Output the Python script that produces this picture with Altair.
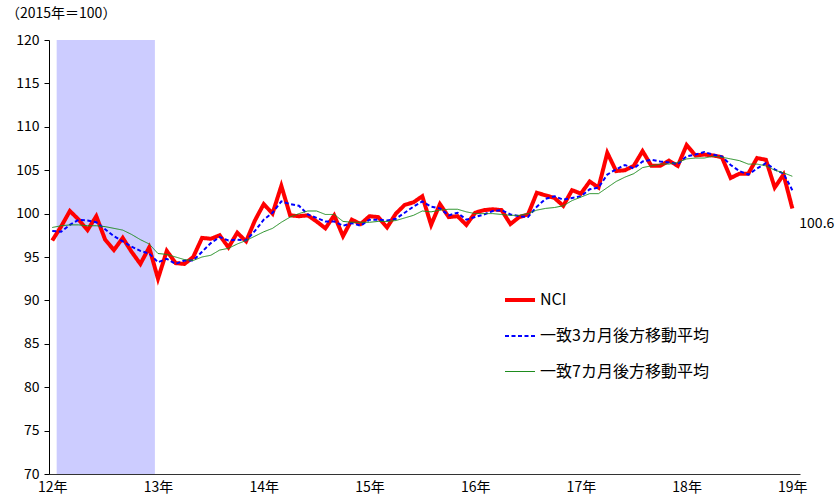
import altair as alt
import pandas as pd

# Year labels shown on the horizontal axis (one per January)
year_labels = ["12年", "13年", "14年", "15年", "16年", "17年", "18年", "19年"]

# Monthly values, Jan 2012 – Jan 2019 (2015 = 100)
nci = [
    96.9, 98.5, 100.3, 99.3, 98.1, 99.7, 97.0, 95.8, 97.2, 95.6, 94.2, 96.1,
    92.5, 95.7, 94.3, 94.2, 95.0, 97.2, 97.1, 97.5, 96.1, 97.8, 96.8, 99.2,
    101.1, 100.0, 103.2, 99.8, 99.7, 99.8, 99.1, 98.3, 99.8, 97.4, 99.3, 98.8,
    99.7, 99.6, 98.4, 100.0, 101.0, 101.3, 102.0, 98.7, 101.1, 99.6, 99.7, 98.7,
    100.1, 100.4, 100.5, 100.4, 98.8, 99.6, 99.9, 102.4, 102.1, 101.8, 100.9, 102.7,
    102.3, 103.7, 103.0, 107.0, 104.9, 105.0, 105.5, 107.2, 105.5, 105.5, 106.1, 105.5,
    107.9, 106.7, 106.8, 106.7, 106.5, 104.1, 104.6, 104.6, 106.4, 106.2, 103.0, 104.5,
    100.6,
]
ma3 = [
    98.0, 97.9, 98.7, 99.3, 99.2, 99.0, 98.2, 97.4, 96.8, 96.2, 95.7, 95.4,
    94.4, 94.8, 94.2, 94.6, 94.6, 95.6, 96.6, 97.3, 96.9, 97.0, 96.9, 98.0,
    99.3, 100.1, 101.4, 101.1, 100.9, 99.9, 99.5, 99.1, 99.1, 98.6, 98.9, 98.6,
    99.3, 99.3, 99.2, 99.4, 100.1, 100.8, 101.4, 100.8, 100.6, 99.8, 100.1, 99.3,
    99.6, 99.9, 100.3, 100.4, 99.9, 99.7, 99.6, 100.8, 101.7, 102.0, 101.6, 101.8,
    102.0, 102.8, 103.0, 104.5, 105.1, 105.6, 105.2, 106.0, 106.2, 106.0, 105.9, 105.7,
    106.6, 106.8, 107.1, 106.8, 106.6, 105.6, 104.9, 104.5, 105.2, 105.8, 105.1, 104.6,
    102.7,
]
ma7 = [
    98.4, 98.6, 98.7, 98.7, 98.6, 98.6, 98.5, 98.3, 98.1, 97.6, 97.0, 96.5,
    95.4, 95.3, 95.0, 94.7, 94.6, 95.0, 95.2, 95.8, 96.0, 96.5, 96.9, 97.4,
    97.9, 98.3, 99.0, 99.6, 100.0, 100.3, 100.3, 99.9, 99.9, 99.1, 99.0, 99.0,
    99.0, 99.1, 99.1, 99.2, 99.5, 99.8, 100.3, 100.2, 100.4, 100.5, 100.5, 100.2,
    100.0, 100.0, 100.0, 99.9, 99.8, 99.8, 100.0, 100.4, 100.6, 100.7, 100.9, 101.5,
    101.9, 102.3, 102.3, 103.0, 103.7, 104.2, 104.6, 105.3, 105.5, 105.7, 105.7, 105.9,
    106.3, 106.4, 106.4, 106.6, 106.5, 106.3, 106.1, 105.7, 105.7, 105.5, 105.0, 104.7,
    104.3,
]
series_names = ["NCI", "一致3カ月後方移動平均", "一致7カ月後方移動平均"]
series_colors = ["#FF0000", "#0000FF", "#1E8C1E"]

# Shaded period, in month index (0 = Jan 2012)
shade_start, shade_end = 0.5, 11.65
y_domain = [70, 120]

FONT = "Noto Sans CJK JP"
n = len(nci)
months = list(range(n))

lines_df = pd.DataFrame({
    "month": months * 3,
    "series": [series_names[0]] * n + [series_names[1]] * n + [series_names[2]] * n,
    "value": nci + ma3 + ma7,
    "order": [0] * n + [1] * n + [2] * n,
})
shade_df = pd.DataFrame({"start": [shade_start], "end": [shade_end],
                         "lo": [y_domain[0]], "hi": [y_domain[1]]})
last_df = pd.DataFrame({"month": [months[-1]], "value": [nci[-1]],
                        "label": [f"{nci[-1]:.1f}"]})

x_scale = alt.Scale(domain=[-0.37, 84.87], nice=False, zero=False)
y_scale = alt.Scale(domain=y_domain, nice=False, zero=False)

label_expr = "[" + ",".join(f"'{s}'" for s in year_labels) + "][datum.value / 12]"

x_axis = alt.Axis(values=[12 * k for k in range(len(year_labels))], labelExpr=label_expr,
                  ticks=False, grid=False, title=None, labelFont=FONT, labelFontSize=14,
                  labelColor="#000", labelPadding=6, domainColor="#333", domainWidth=1)
y_axis = alt.Axis(values=list(range(70, 121, 5)), grid=False, title=None, labelFont=FONT,
                  labelFontSize=14, labelColor="#000", tickSize=5, tickColor="#000",
                  domainColor="#000", labelPadding=5)

shade = alt.Chart(shade_df).mark_rect(color="#CCCCFF").encode(
    x=alt.X("start:Q", scale=x_scale, axis=x_axis),
    x2="end:Q",
    y=alt.Y("lo:Q", scale=y_scale, axis=y_axis),
    y2="hi:Q",
)

legend = alt.Legend(title=None, orient="none", legendX=454, legendY=243,
                    symbolType="stroke", symbolSize=900, labelFont=FONT, labelFontSize=16,
                    labelColor="#000", labelOffset=3, labelLimit=0, rowPadding=12, padding=0)

lines = alt.Chart(lines_df).mark_line().encode(
    x=alt.X("month:Q", scale=x_scale, axis=x_axis),
    y=alt.Y("value:Q", scale=y_scale, axis=y_axis),
    color=alt.Color("series:N", scale=alt.Scale(domain=series_names, range=series_colors),
                    legend=legend),
    strokeDash=alt.StrokeDash("series:N",
                              scale=alt.Scale(domain=series_names, range=[[1, 0], [4, 2.5], [1, 0]]),
                              legend=legend),
    strokeWidth=alt.StrokeWidth("series:N",
                                scale=alt.Scale(type="ordinal", domain=series_names, range=[4, 2, 1]),
                                legend=legend),
    order="order:Q",
)

end_label = alt.Chart(last_df).mark_text(
    align="left", baseline="middle", dx=7, dy=16, font=FONT, fontSize=14, color="#000"
).encode(
    x=alt.X("month:Q", scale=x_scale),
    y=alt.Y("value:Q", scale=y_scale),
    text="label:N",
)

unit_title = alt.Chart(pd.DataFrame({"t": ["（2015年＝100）"]})).mark_text(
    align="left", baseline="middle", font=FONT, fontSize=14, color="#000"
).encode(x=alt.value(-43), y=alt.value(-26), text="t:N")

chart = alt.layer(shade, lines, end_label, unit_title).properties(
    width=751, height=434,
    autosize=alt.AutoSizeParams(type="none"),
    padding={"left": 49, "top": 40, "right": 36, "bottom": 26},
).configure(background="white", view=alt.ViewConfig(stroke=None))

chart.save("out.html", embed_options={"renderer": "svg", "actions": False})
